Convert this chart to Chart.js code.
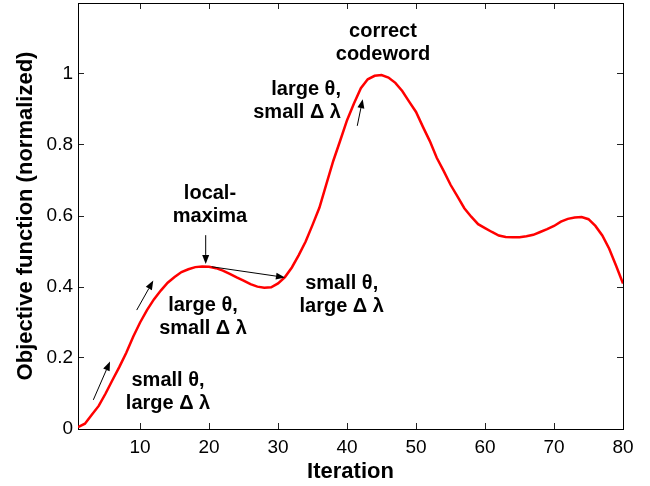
<!DOCTYPE html>
<html>
<head>
<meta charset="utf-8">
<title>Objective function vs iteration</title>
<script src="https://cdn.jsdelivr.net/npm/chart.js@4/dist/chart.umd.min.js"></script>
<style>
    html, body { margin: 0; padding: 0; background: #fff; }
    canvas { display: block; }
</style>
</head>
<body>
<canvas id="objChart" width="650" height="486"></canvas>
<script>
(function () {
    "use strict";

    const iterations = [
        1, 2, 3, 4, 5, 6, 7, 8, 9, 10,
        11, 12, 13, 14, 15, 16, 17, 18, 19, 20,
        21, 22, 23, 24, 25, 26, 27, 28, 29, 30,
        31, 32, 33, 34, 35, 36, 37, 38, 39, 40,
        41, 42, 43, 44, 45, 46, 47, 48, 49, 50,
        51, 52, 53, 54, 55, 56, 57, 58, 59, 60,
        61, 62, 63, 64, 65, 66, 67, 68, 69, 70,
        71, 72, 73, 74, 75, 76, 77, 78, 79, 80
    ];

    const objective = [
        0.005, 0.015, 0.040, 0.065, 0.100, 0.138, 0.175, 0.215, 0.260, 0.300,
        0.335, 0.365, 0.390, 0.412, 0.428, 0.442, 0.450, 0.456, 0.458, 0.457,
        0.453, 0.446, 0.437, 0.427, 0.418, 0.408, 0.401, 0.398, 0.399, 0.410,
        0.428, 0.455, 0.490, 0.528, 0.575, 0.624, 0.690, 0.755, 0.812, 0.870,
        0.917, 0.960, 0.985, 0.995, 0.997, 0.990, 0.975, 0.952, 0.922, 0.893,
        0.851, 0.811, 0.764, 0.727, 0.688, 0.655, 0.622, 0.598, 0.577, 0.566,
        0.555, 0.545, 0.541, 0.540, 0.540, 0.543, 0.547, 0.555, 0.563, 0.572,
        0.584, 0.592, 0.596, 0.597, 0.591, 0.572, 0.545, 0.508, 0.460, 0.410
    ];

    const xTickValues = [10, 20, 30, 40, 50, 60, 70, 80];
    const yTickValues = [0, 0.2, 0.4, 0.6, 0.8, 1];

    // text notes placed in data coordinates (block centre, or right edge)
    const notes = [
        { lines: ["small θ,", "large Δ λ"], x: 14.05, y: 0.104, align: "center" },
        { lines: ["large θ,", "small Δ λ"], x: 19.12, y: 0.315, align: "center" },
        { lines: ["local-", "maxima"], x: 20.13, y: 0.631, align: "center" },
        { lines: ["small θ,", "large Δ λ"], x: 39.22, y: 0.377, align: "center" },
        { lines: ["large θ,", "small Δ λ"], x: 39.12, y: 0.923, align: "right" },
        { lines: ["correct", "codeword"], x: 45.21, y: 1.086, align: "center" }
    ];

    const arrows = [
        { from: [3.22, 0.082], to: [5.64, 0.190] },
        { from: [9.51, 0.335], to: [11.91, 0.418] },
        { from: [19.51, 0.546], to: [19.51, 0.465] },
        { from: [20.38, 0.457], to: [31.00, 0.427] },
        { from: [41.48, 0.854], to: [42.27, 0.929] }
    ];

    const fontFamily = "'Liberation Sans', Arial, Helvetica, sans-serif";
    const ink = "#000";

    const notesPlugin = {
        id: "notes",
        afterDatasetsDraw(chart) {
            const { ctx } = chart;
            const xs = chart.scales.x;
            const ys = chart.scales.y;

            ctx.save();
            ctx.strokeStyle = ink;
            ctx.fillStyle = ink;
            ctx.lineWidth = 1;

            arrows.forEach((a) => {
                const x1 = xs.getPixelForValue(a.from[0]);
                const y1 = ys.getPixelForValue(a.from[1]);
                const x2 = xs.getPixelForValue(a.to[0]);
                const y2 = ys.getPixelForValue(a.to[1]);
                const ang = Math.atan2(y2 - y1, x2 - x1);
                const cos = Math.cos(ang);
                const sin = Math.sin(ang);
                const headLen = 9;
                const headHalf = 3.5;
                const bx = x2 - headLen * cos;
                const by = y2 - headLen * sin;

                ctx.beginPath();
                ctx.moveTo(x1, y1);
                ctx.lineTo(bx, by);
                ctx.stroke();

                ctx.beginPath();
                ctx.moveTo(x2, y2);
                ctx.lineTo(bx + headHalf * sin, by - headHalf * cos);
                ctx.lineTo(bx - headHalf * sin, by + headHalf * cos);
                ctx.closePath();
                ctx.fill();
            });

            ctx.font = "bold 20px " + fontFamily;
            ctx.textBaseline = "middle";
            const lineHeight = 23;
            notes.forEach((n) => {
                ctx.textAlign = n.align;
                const cx = xs.getPixelForValue(n.x);
                const cy = ys.getPixelForValue(n.y);
                const top = cy - (n.lines.length - 1) * lineHeight / 2;
                n.lines.forEach((t, i) => ctx.fillText(t, cx, top + i * lineHeight));
            });
            ctx.restore();
        }
    };

    // every side of the box gets inward tick marks and a solid border
    function sideAxis(position, tickValues, min, max, size, extra) {
        const horizontal = position === "top" || position === "bottom";
        return {
            type: "linear",
            position,
            min,
            max,
            afterBuildTicks: (scale) => {
                scale.ticks = tickValues.map((v) => ({ value: v }));
            },
            afterFit: (scale) => {
                if (horizontal) scale.height = size;
                else scale.width = size;
                // the box edges are fixed, so no extra room for edge labels
                scale.paddingTop = 0;
                scale.paddingBottom = 0;
                scale.paddingLeft = 0;
                scale.paddingRight = 0;
            },
            grid: {
                drawOnChartArea: false,
                drawTicks: true,
                tickLength: -6,
                tickColor: "#222",
                tickWidth: 1
            },
            border: { display: true, color: ink, width: 1 },
            ticks: { display: false },
            ...extra
        };
    }

    const tickFont = { family: fontFamily, size: 19 };
    const titleFont = { family: fontFamily, size: 22, weight: "bold" };

    new Chart(document.getElementById("objChart"), {
        type: "line",
        data: {
            datasets: [{
                data: iterations.map((it, i) => ({ x: it, y: objective[i] })),
                borderColor: "#ff0000",
                borderWidth: 2.5,
                pointRadius: 0,
                tension: 0,
                fill: false
            }]
        },
        plugins: [notesPlugin],
        options: {
            responsive: false,
            devicePixelRatio: 1,
            animation: false,
            layout: { padding: 0 },
            plugins: {
                legend: { display: false },
                tooltip: { enabled: false }
            },
            scales: {
                x: sideAxis("bottom", xTickValues, 1, 80, 57, {
                    ticks: {
                        display: true,
                        color: ink,
                        font: tickFont,
                        padding: 13,
                        maxRotation: 0,
                        autoSkip: false
                    },
                    title: {
                        display: true,
                        text: "Iteration",
                        color: ink,
                        font: titleFont,
                        padding: { top: 0, bottom: 1 }
                    }
                }),
                xTop: sideAxis("top", xTickValues, 1, 80, 3, {}),
                y: sideAxis("left", yTickValues, 0, 1.2, 78, {
                    ticks: {
                        display: true,
                        color: ink,
                        font: tickFont,
                        padding: 11,
                        callback: (v) => String(v)
                    },
                    title: {
                        display: true,
                        text: "Objective function (normalized)",
                        color: ink,
                        font: titleFont,
                        padding: { top: 13, bottom: 0 }
                    }
                }),
                yRight: sideAxis("right", yTickValues, 0, 1.2, 27, {})
            }
        }
    });
}());
</script>
</body>
</html>
